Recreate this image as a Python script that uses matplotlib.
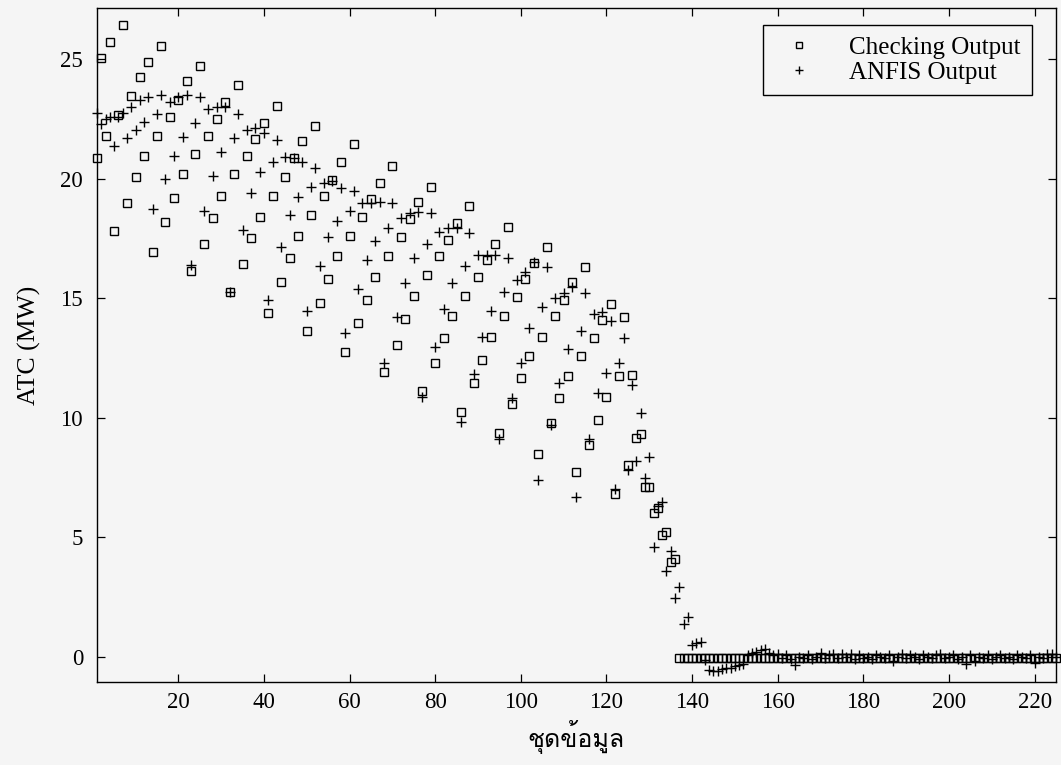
import matplotlib
matplotlib.use("Agg")
import matplotlib.pyplot as plt
import numpy as np
from matplotlib import font_manager
from matplotlib.ft2font import FT2Font


# ---- data (one point per data set index) ----
check_head = [20.85, 25.07, 21.8, 25.7, 17.8, 22.66, 26.45, 19.0, 23.46, 20.08,
              24.25, 20.96, 24.87, 16.92, 21.8, 25.56, 18.17, 22.6, 19.2, 23.3,
              20.2, 24.08, 16.15, 21.03, 24.72, 17.28, 21.8, 18.34, 22.5, 19.29,
              23.2, 15.24, 20.18, 23.9, 16.45, 20.96, 17.5, 21.64, 18.38, 22.35,
              14.4, 19.29, 23.04, 15.66, 20.05, 16.66, 20.85, 17.6, 21.56, 13.63,
              18.48, 22.2, 14.79, 19.29, 15.82, 19.94, 16.76, 20.68, 12.75, 17.6,
              21.43]
check_mid = [13.95, 18.38, 14.92, 19.14, 15.87, 19.81, 11.9, 16.78, 20.54, 13.04,
             17.55, 14.14, 18.31, 15.1, 19.02, 11.13, 15.97, 19.64, 12.28, 16.78,
             13.32, 17.43, 14.26, 18.16, 10.25, 15.1, 18.87, 11.46, 15.87, 12.41,
             16.6, 13.36, 17.25, 9.37, 14.26, 17.99, 10.57, 15.04, 11.65, 15.82,
             12.58, 16.49, 8.48, 13.36, 17.13, 9.79, 14.26, 10.81, 14.92, 11.74,
             15.66, 7.72, 12.58, 16.29, 8.86, 13.35, 9.9, 14.09, 10.85, 14.76,
             6.81, 11.74, 14.23, 8.02, 11.79, 9.14, 9.31, 7.09, 7.11, 6.0,
             6.21, 5.09, 5.2, 3.97, 4.08]
check_tail = [-0.05, -0.05, -0.05, -0.05, -0.05, -0.05, -0.05, -0.05, -0.05, -0.05,
              -0.05, -0.05, -0.05, -0.05, -0.05, -0.05, -0.05, -0.05, -0.05, -0.05,
              -0.05, -0.05, -0.05, -0.05, -0.05, -0.05, -0.05, -0.05, -0.05, -0.05,
              -0.05, -0.05, -0.05, -0.05, -0.05, -0.05, -0.05, -0.05, -0.05, -0.05,
              -0.05, -0.05, -0.05, -0.05, -0.05, -0.05, -0.05, -0.05, -0.05, -0.05,
              -0.05, -0.05, -0.05, -0.05, -0.05, -0.05, -0.05, -0.05, -0.05, -0.05,
              -0.05, -0.05, -0.05, -0.05, -0.05, -0.05, -0.05, -0.05, -0.05, -0.05,
              -0.05, -0.05, -0.05, -0.05, -0.05, -0.05, -0.05, -0.05, -0.05, -0.05,
              -0.05, -0.05, -0.05, -0.05, -0.05, -0.05, -0.05, -0.05, -0.05]

anfis_head = [22.74, 22.3, 22.5, 22.6, 21.38, 22.6, 22.75, 21.72, 23.0, 22.04,
              23.3, 22.39, 23.4, 18.73, 22.69, 23.5, 19.97, 23.2, 20.96, 23.4,
              21.76, 23.5, 16.39, 22.32, 23.4, 18.66, 22.9, 20.13, 23.0, 21.1,
              23.0, 15.24, 21.72, 22.7, 17.85, 22.04, 19.39, 22.1, 20.29, 21.9,
              14.92, 20.71, 21.62, 17.15, 20.92, 18.48, 20.85, 19.25, 20.69, 14.46,
              19.67, 20.46, 16.35, 19.81, 17.55, 19.9, 18.24, 19.63, 13.56, 18.66,
              19.5]
anfis_mid = [15.37, 18.97, 16.6, 19.0, 17.41, 19.04, 12.28, 17.95, 18.97, 14.2,
             18.34, 15.62, 18.55, 16.67, 18.62, 10.85, 17.27, 18.55, 12.95, 17.78,
             14.54, 17.92, 15.62, 17.95, 9.81, 16.35, 17.71, 11.83, 16.8, 13.36,
             16.8, 14.48, 16.8, 9.1, 15.25, 16.67, 10.81, 15.76, 12.3, 16.11,
             13.74, 16.5, 7.39, 14.65, 16.29, 9.69, 15.0, 11.46, 15.23, 12.86,
             15.46, 6.67, 13.63, 15.21, 9.1, 14.33, 11.02, 14.44, 11.88, 14.05,
             7.03, 12.28, 13.32, 7.81, 11.37, 8.2, 10.18, 7.46, 8.37, 4.6,
             6.3, 6.49, 3.6, 4.44, 2.44, 2.93, 1.36, 1.65, 0.49, 0.56,
             0.63]
anfis_tail = [-0.15, -0.56, -0.58, -0.6, -0.53, -0.49, -0.46, -0.4, -0.35, -0.3,
              0.05, 0.15, 0.21, 0.28, 0.32, 0.14, 0.07, 0.1, -0.05, 0.05,
              -0.1, -0.35, 0.0, -0.05, 0.05, -0.08, 0.0, 0.15, -0.05, 0.05,
              0.1, -0.05, 0.1, 0.0, 0.1, -0.08, 0.05, -0.05, 0.0, -0.1,
              0.05, 0.0, -0.05, 0.05, -0.2, 0.0, 0.1, -0.05, 0.08, 0.0,
              -0.1, 0.05, 0.0, -0.05, 0.05, 0.1, -0.05, 0.0, 0.05, -0.1,
              0.0, -0.3, 0.05, -0.2, 0.0, -0.05, 0.05, -0.1, 0.0, 0.05,
              -0.05, 0.0, -0.1, 0.05, 0.0, -0.05, 0.05, -0.25, 0.0, -0.05,
              0.1, 0.1, 0.0]

checking = check_head + check_mid + check_tail
anfis = anfis_head + anfis_mid + anfis_tail
data_set = np.arange(1, len(checking) + 1)

x_ticks = [20, 40, 60, 80, 100, 120, 140, 160, 180, 200, 220]
y_ticks = [0, 5, 10, 15, 20, 25]


def thai_family():
    # first installed font that actually has Thai glyphs
    for f in font_manager.fontManager.ttflist:
        try:
            if ord('ช') in FT2Font(f.fname).get_charmap():
                return f.name
        except Exception:
            pass
    return 'DejaVu Sans'


plt.rcParams['font.family'] = ['Liberation Serif', 'DejaVu Serif']
bg = '#f5f5f5'

fig = plt.figure(figsize=(10.61, 7.65), dpi=100, facecolor=bg)
ax = fig.add_axes([0.0914, 0.1085, 0.9039, 0.881], facecolor=bg)

ax.plot(data_set, checking, linestyle='none', marker='s', markersize=6,
        markerfacecolor='none', markeredgecolor='black', markeredgewidth=1.0,
        clip_on=False, label='Checking Output')
ax.plot(data_set, anfis, linestyle='none', marker='+', markersize=7,
        color='black', markeredgewidth=1.0, clip_on=False, label='ANFIS Output')

ax.set_xlim(1, 225)
ax.set_ylim(-1.06, 27.14)
ax.set_xticks(x_ticks)
ax.set_yticks(y_ticks)
ax.tick_params(direction='in', top=True, right=True, length=6, width=0.9,
               labelsize=16.5, colors='black')
ax.tick_params(axis='x', pad=7)
ax.tick_params(axis='y', pad=10)
for s in ax.spines.values():
    s.set_linewidth(1.0)
    s.set_color('black')

ax.set_ylabel('ATC (MW)', fontsize=18.5, labelpad=14)
ax.set_xlabel('ชุดข้อมูล', fontsize=18, labelpad=5,
              family=[thai_family(), 'DejaVu Sans'])

leg = ax.legend(loc='upper right', bbox_to_anchor=(0.975, 0.975), borderaxespad=0,
                fontsize=18, fancybox=False, framealpha=1, facecolor=bg,
                edgecolor='black', labelspacing=0.1, handletextpad=1.0,
                borderpad=0.45, markerscale=0.75)
leg.get_frame().set_linewidth(1.0)

fig.savefig('out.png', dpi=100, facecolor=bg)
